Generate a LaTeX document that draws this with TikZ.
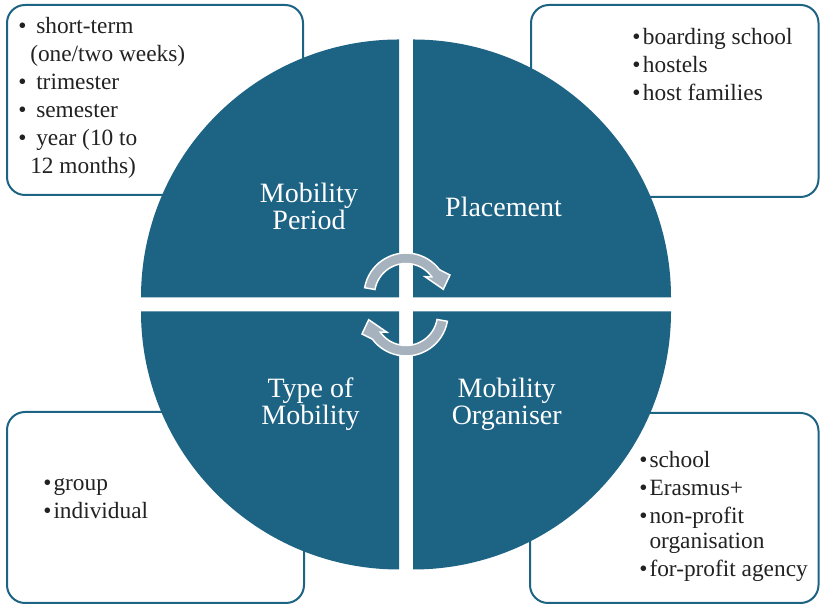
\documentclass[tikz,border=0pt]{standalone}
\usepackage{fontspec}
\setmainfont{Liberation Serif}
\usepackage{xcolor}
\definecolor{mteal}{HTML}{1D6384}
\definecolor{mgray}{HTML}{A6B3BE}
\definecolor{mink}{HTML}{222222}
\newcommand{\bul}[1]{\makebox[#1][l]{\textbullet}}

\begin{document}
\begin{tikzpicture}[x=0.75pt, y=0.75pt,
    panel/.style={draw=mteal, line width=1.5pt, rounded corners=13.5pt, fill=white},
    quad/.style={fill=mteal, draw=none},
    cyc/.style={fill=mgray, draw=white, line width=1.1pt},
    qtext/.style={text=white, align=center, inner sep=0pt, anchor=base,
        font=\fontsize{21pt}{20.6pt}\selectfont},
    bullets/.style={text=mink, align=left, inner sep=0pt, anchor=base west,
        font=\fontsize{17.5pt}{21pt}\selectfont}]
    \useasboundingbox (0,0) rectangle (820,605);
    % panels
    \draw[panel] (7,410) rectangle (303,600);
    \draw[panel] (531,408) rectangle (818.5,600);
    \draw[panel] (7,2) rectangle (304,193);
    \draw[panel] (530,2) rectangle (818.5,192);
    % quadrants
    \foreach \a/\sx/\sy in {0/1/1, 90/-1/1, 180/-1/-1, 270/1/-1}
        \fill[quad] ({406+7*\sx},{300.5+7*\sy}) -- ++(\a:258) arc (\a:\a+90:258) -- cycle;
    % cycle arrows
    \foreach \cx/\cy/\r in {406/310/0, 406/291/180}
        \path[cyc, shift={(\cx,\cy)}, rotate=\r] (170:42) arc (170:37:42) -- (44,20)
            -- (37.3,5.7) -- (19,18.3) -- (35:31.5) arc (35:170:31.5) -- cycle;
    % quadrant titles (base = last line)
    \node[qtext] (period) at (309,375) {Mobility\\Period};
    \node[qtext] (placement) at (503.5,388.5) {Placement};
    \node[qtext] (type) at (310.5,180) {Type of\\Mobility};
    \node[qtext] (organiser) at (506.7,180) {Mobility\\Organiser};
    % lists
    \node[bullets] (periodlist) at (18,431) {\bul{13.5pt}short-term\\
        \hspace*{9pt}(one/two weeks)\\\bul{13.5pt}trimester\\\bul{13.5pt}semester\\
        \bul{13.5pt}year (10 to\\\hspace*{9pt}12 months)};
    \node[bullets] (placementlist) at (632,504.3) {\bul{8pt}boarding school\\
        \bul{8pt}hostels\\\bul{8pt}host families};
    \node[bullets] (typelist) at (43,86) {\bul{7.7pt}group\\\bul{7.7pt}individual};
    \node[bullets] (organiserlist) at (639,28.3) {\bul{7.7pt}school\\\bul{7.7pt}Erasmus+\\
        \bul{7.7pt}non-profit\\[-2.25pt]\hspace*{7.7pt}organisation\\
        \bul{7.7pt}for-profit agency};
\end{tikzpicture}
\end{document}
